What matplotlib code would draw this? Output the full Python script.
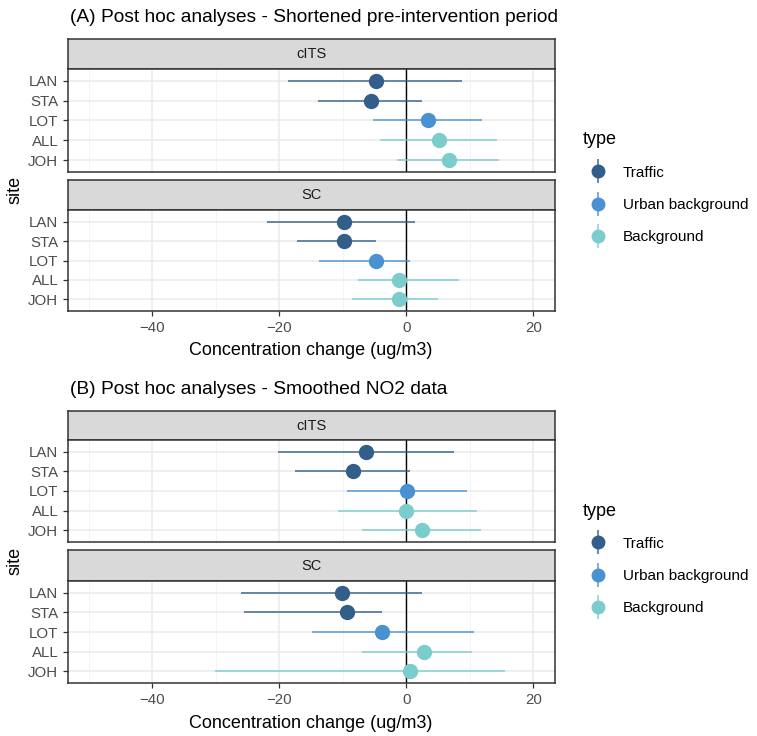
import numpy as np
import matplotlib
matplotlib.use('Agg')
import matplotlib.pyplot as plt
from matplotlib.lines import Line2D
from matplotlib.legend_handler import HandlerTuple

plt.rcParams['font.family'] = ['Liberation Sans', 'DejaVu Sans']

sites = ['LAN', 'STA', 'LOT', 'ALL', 'JOH']
site_type = ['Traffic', 'Traffic', 'Urban background', 'Background', 'Background']
type_names = ['Traffic', 'Urban background', 'Background']
type_colors = {'Traffic': '#325E89', 'Urban background': '#4A91D1', 'Background': '#7BCDCD'}

# (A) shortened pre-intervention period
a_cits_est = [-4.8, -5.6, 3.4, 5.1, 6.7]
a_cits_lo = [-18.6, -13.9, -5.2, -4.1, -1.5]
a_cits_hi = [8.7, 2.4, 11.9, 14.3, 14.6]
a_sc_est = [-9.9, -9.9, -4.8, -1.1, -1.1]
a_sc_lo = [-21.9, -17.2, -13.7, -7.7, -8.6]
a_sc_hi = [1.3, -4.8, 0.6, 8.3, 5.0]

# (B) smoothed NO2 data
b_cits_est = [-6.3, -8.4, 0.1, 0.0, 2.4]
b_cits_lo = [-20.2, -17.5, -9.4, -10.8, -7.0]
b_cits_hi = [7.5, 0.6, 9.6, 11.1, 11.7]
b_sc_est = [-10.2, -9.4, -3.8, 2.7, 0.6]
b_sc_lo = [-26.0, -25.6, -14.9, -7.0, -30.2]
b_sc_hi = [2.4, -3.9, 10.7, 10.4, 15.6]

W, H = 757, 736
fig = plt.figure(figsize=(W / 100, H / 100), dpi=100)

PX_L, PX_R = 68, 555
EDGE = '#333333'


def rect(top, bottom):
    return [PX_L / W, 1 - bottom / H, (PX_R - PX_L) / W, (bottom - top) / H]


def draw_facet(strip_top, panel_top, panel_bottom, label, est, lo, hi, show_x):
    sax = fig.add_axes(rect(strip_top, panel_top))
    sax.set_facecolor('#D9D9D9')
    sax.set_xticks([])
    sax.set_yticks([])
    for s in sax.spines.values():
        s.set_color(EDGE)
        s.set_linewidth(1.1)
    sax.text(0.5, 0.5, label, ha='center', va='center', fontsize=10.5,
             color='#1A1A1A', transform=sax.transAxes)

    ax = fig.add_axes(rect(panel_top, panel_bottom))
    ax.set_xlim(-53.3, 23.4)
    ax.set_ylim(len(sites) - 0.4, -0.6)
    ax.set_xticks([-40, -20, 0, 20])
    ax.set_xticks([-50, -30, -10, 10], minor=True)
    ax.set_yticks(range(len(sites)))
    ax.set_yticklabels(sites)
    ax.grid(which='major', color='#EBEBEB', lw=1.1, zorder=0)
    ax.grid(which='minor', axis='x', color='#F3F3F3', lw=0.6, zorder=0)
    ax.set_axisbelow(True)
    ax.axvline(0, color='black', lw=1.0, zorder=1.5)
    for i, t in enumerate(site_type):
        c = type_colors[t]
        ax.hlines(i, lo[i], hi[i], color=c, lw=1.2, alpha=0.85, zorder=2)
        ax.plot(est[i], i, 'o', ms=10, color=c, zorder=3)
    for s in ax.spines.values():
        s.set_color(EDGE)
        s.set_linewidth(1.1)
    ax.tick_params(which='major', length=3.5, width=0.9, color=EDGE,
                   labelcolor='#4D4D4D', labelsize=10.8)
    ax.tick_params(which='minor', length=0)
    if not show_x:
        ax.tick_params(axis='x', bottom=False, labelbottom=False)
    return ax


# panel (A)
fig.text(70 / W, 1 - 18 / H, '(A) Post hoc analyses - Shortened pre-intervention period',
         fontsize=13.8, va='center', ha='left')
draw_facet(39, 69, 172, 'cITS', a_cits_est, a_cits_lo, a_cits_hi, False)
draw_facet(180, 210, 311, 'SC', a_sc_est, a_sc_lo, a_sc_hi, True)
fig.text(311 / W, 1 - 350 / H, 'Concentration change (ug/m3)', fontsize=13,
         ha='center', va='center')
fig.text(15 / W, 1 - 190 / H, 'site', fontsize=13, rotation=90, ha='center', va='center')

# panel (B)
fig.text(70 / W, 1 - 390 / H, '(B) Post hoc analyses - Smoothed NO2 data',
         fontsize=13.8, va='center', ha='left')
draw_facet(411, 440, 542, 'cITS', b_cits_est, b_cits_lo, b_cits_hi, False)
draw_facet(550, 581, 683, 'SC', b_sc_est, b_sc_lo, b_sc_hi, True)
fig.text(311 / W, 1 - 723 / H, 'Concentration change (ug/m3)', fontsize=13,
         ha='center', va='center')
fig.text(15 / W, 1 - 561 / H, 'site', fontsize=13, rotation=90, ha='center', va='center')

# legends
handles = []
for t in type_names:
    c = type_colors[t]
    handles.append((Line2D([], [], marker='|', ms=17, mew=1.2, color=c, ls='none', alpha=0.85),
                    Line2D([], [], marker='o', ms=9, color=c, ls='none')))

for title_y, y_center in ((140, 205), (512, 576)):
    fig.text(583 / W, 1 - title_y / H, 'type', fontsize=13, ha='left', va='center')
    fig.legend(handles, type_names, handler_map={tuple: HandlerTuple(ndivide=1)},
               loc='center left', bbox_to_anchor=(583 / W, 1 - y_center / H),
               frameon=False, fontsize=11,
               handlelength=1.0, handletextpad=1.1, labelspacing=1.2, borderpad=0)

fig.savefig('out.png', dpi=100)
